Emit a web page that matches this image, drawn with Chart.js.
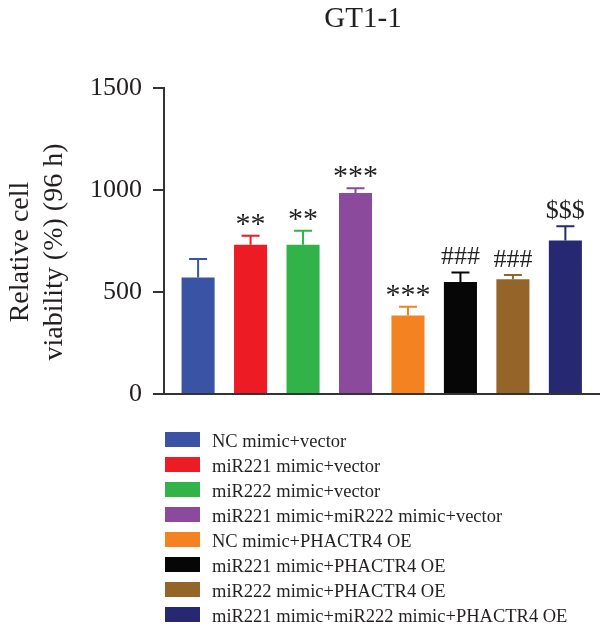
<!DOCTYPE html>
<html>
<head>
<meta charset="utf-8">
<script src="https://cdn.jsdelivr.net/npm/chart.js@4/dist/chart.umd.min.js"></script>
<style>
  body { margin: 0; background: #fff; }
  #wrap { width: 600px; height: 629px; }
</style>
</head>
<body>
<div id="wrap"><canvas id="cht"></canvas></div>
<script>
"use strict";

var groups = [
	"NC mimic+vector",
	"miR221 mimic+vector",
	"miR222 mimic+vector",
	"miR221 mimic+miR222 mimic+vector",
	"NC mimic+PHACTR4 OE",
	"miR221 mimic+PHACTR4 OE",
	"miR222 mimic+PHACTR4 OE",
	"miR221 mimic+miR222 mimic+PHACTR4 OE"
];
var means = [571, 732, 732, 985, 385, 549, 562, 753];
var errs = [91, 44, 68, 23, 43, 47, 21, 69];
var marks = ["", "**", "**", "***", "***", "###", "###", "$$$"];
var colors = ["#3a53a4", "#ed1c24", "#32b34a", "#8b4a9c", "#f58220", "#060606", "#956429", "#262872"];
var yTicks = [0, 500, 1000, 1500];

var serif = "'Liberation Serif', 'Times New Roman', serif";
var inkColor = "#231f20";
var axisColor = "#333333";

// one dataset per group so every bar gets its own legend row
var datasets = [];
for (var i = 0; i < groups.length; i++) {
	datasets.push({
		label: groups[i],
		data: [{x: i + 1, y: means[i]}],
		backgroundColor: colors[i],
		borderWidth: 0,
		barPercentage: 0.63,
		categoryPercentage: 1,
		grouped: false
	});
}

var errorBars = {
	id: 'errorBars',
	afterDatasetsDraw: function (chart) {
		var ctx = chart.ctx;
		var y = chart.scales.y;
		ctx.save();
		for (var i = 0; i < datasets.length; i++) {
			var bar = chart.getDatasetMeta(i).data[0];
			var top = y.getPixelForValue(means[i] + errs[i]);
			ctx.strokeStyle = colors[i];
			ctx.lineWidth = 2;
			ctx.beginPath();
			ctx.moveTo(bar.x, bar.y);
			ctx.lineTo(bar.x, top);
			ctx.moveTo(bar.x - 9, top);
			ctx.lineTo(bar.x + 9, top);
			ctx.stroke();

			if (marks[i]) {
				ctx.fillStyle = inkColor;
				ctx.textAlign = "center";
				ctx.textBaseline = "alphabetic";
				if (marks[i].charAt(0) == "*") {
					ctx.font = "30px " + serif;
					ctx.fillText(marks[i], bar.x, top - 3);
				} else {
					ctx.font = "26px " + serif;
					ctx.fillText(marks[i], bar.x, top - 8);
				}
			}
		}
		ctx.restore();
	}
};

var extras = {
	id: 'extras',
	afterDraw: function (chart) {
		var ctx = chart.ctx;
		ctx.save();
		ctx.fillStyle = inkColor;

		// title
		ctx.font = "29px " + serif;
		ctx.textAlign = "center";
		ctx.textBaseline = "alphabetic";
		ctx.fillText("GT1-1", 363, 27);

		// y axis title, two lines
		ctx.save();
		ctx.translate(0, 252);
		ctx.rotate(-Math.PI / 2);
		ctx.font = "28px " + serif;
		ctx.fillText("Relative cell", 0, 28);
		ctx.fillText("viability (%) (96 h)", 0, 62);
		ctx.restore();

		// legend, one column
		ctx.font = "18.5px " + serif;
		ctx.textAlign = "left";
		for (var i = 0; i < groups.length; i++) {
			var top = 432 + i * 25;
			ctx.fillStyle = colors[i];
			ctx.fillRect(165, top, 35, 15);
			ctx.fillStyle = inkColor;
			ctx.fillText(groups[i], 212, top + 15);
		}
		ctx.restore();
	}
};

var chart = new Chart(document.getElementById("cht").getContext('2d'), {
	type: 'bar',
	data: { datasets: datasets },
	options: {
		responsive: true,
		maintainAspectRatio: false,
		animation: false,
		layout: { padding: { top: 88, bottom: 235, left: 0, right: 0 } },
		plugins: {
			legend: { display: false },
			tooltip: { enabled: false }
		},
		scales: {
			x: {
				type: 'linear',
				offset: false,
				min: 0.35,
				max: 8.66,
				ticks: { display: false },
				grid: { display: false },
				border: { display: true, color: axisColor, width: 2 },
				afterFit: function (scale) { scale.height = 0; }
			},
			y: {
				min: 0,
				max: 1500,
				afterBuildTicks: function (scale) {
					scale.ticks = yTicks.map(function (v) { return {value: v}; });
				},
				ticks: {
					color: inkColor,
					padding: 11,
					font: { family: serif, size: 26 },
					callback: function (v) { return String(v); }
				},
				grid: {
					drawOnChartArea: false,
					drawTicks: true,
					tickLength: 11,
					color: axisColor,
					lineWidth: 2
				},
				border: { display: true, color: axisColor, width: 2 },
				afterFit: function (scale) { scale.width = 164; }
			}
		}
	},
	plugins: [errorBars, extras]
});
</script>
</body>
</html>
